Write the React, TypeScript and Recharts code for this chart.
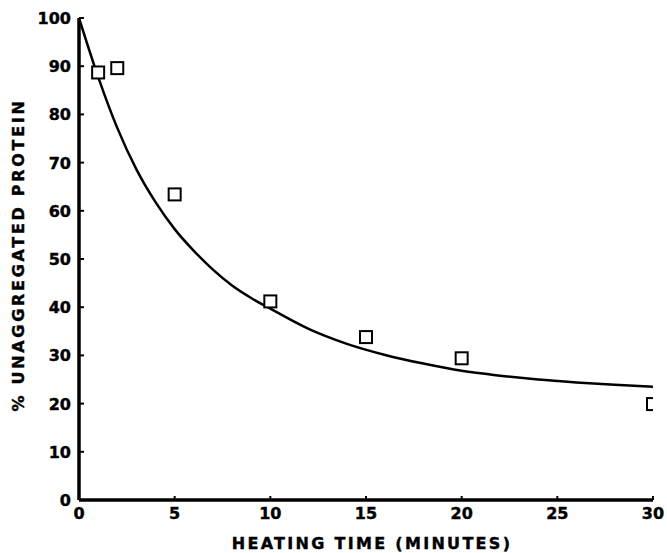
import { ComposedChart, Line, Scatter, XAxis, YAxis, Label } from 'recharts';

// fitted decay curve, read at fixed heating times
const fitTime = [0, 1, 2, 3, 4, 5, 6, 7, 8, 9, 10, 12, 14, 16, 18, 20, 22, 24, 26, 28, 30];
const fitPercent = [100, 87.8, 77.2, 68.6, 61.8, 56.2, 51.7, 47.8, 44.5, 41.9, 39.7, 35.5, 32.4, 30.1, 28.3, 26.8, 25.8, 25.0, 24.4, 23.9, 23.5];

// measured samples
const sampleTime = [1, 2, 5, 10, 15, 20, 30];
const samplePercent = [88.7, 89.6, 63.4, 41.2, 33.8, 29.4, 19.9];

const xTicks = [0, 5, 10, 15, 20, 25, 30];
const yTicks = [0, 10, 20, 30, 40, 50, 60, 70, 80, 90, 100];

const fitCurve = fitTime.map((time, i) => ({ time, percent: fitPercent[i] }));
const samples = sampleTime.map((time, i) => ({ time, percent: samplePercent[i] }));

const FONT = "'DejaVu Sans', sans-serif";

// bold type with a hairline stroke so it reads heavier
const textStyle = {
    fontFamily: FONT,
    fontWeight: 'bold' as const,
    fontSize: 16,
    fill: '#000',
    stroke: '#000',
    strokeWidth: 0.4,
};

function YTick(props: any) {
    const { x, y, payload } = props;
    return (
        <g>
            <line x1={x + 8} x2={x + 13} y1={y} y2={y} stroke="#000" strokeWidth={2} />
            <text x={x} y={y} dy={6} textAnchor="end" {...textStyle}>
                {payload.value}
            </text>
        </g>
    );
}

function XTick(props: any) {
    const { x, y, payload } = props;
    return (
        <g>
            <line x1={x} x2={x} y1={y} y2={y - 4} stroke="#000" strokeWidth={2} />
            <text x={x} y={y + 19} textAnchor="middle" {...textStyle}>
                {payload.value}
            </text>
        </g>
    );
}

function Square(props: any) {
    const { cx, cy } = props;
    return <rect x={cx - 6} y={cy - 6} width={12} height={12} fill="#fff" stroke="#000" strokeWidth={2} />;
}

function YTitle(props: any) {
    const vb = props.viewBox;
    const cx = 18;
    const cy = vb.y + vb.height / 2 - 4;
    return (
        <text
            x={cx}
            y={cy}
            transform={`rotate(-90 ${cx} ${cy})`}
            textAnchor="middle"
            dominantBaseline="central"
            letterSpacing={2.7}
            {...textStyle}
        >
            % UNAGGREGATED PROTEIN
        </text>
    );
}

function XTitle(props: any) {
    const vb = props.viewBox;
    return (
        <text x={vb.x + vb.width / 2 + 6} y={549} textAnchor="middle" letterSpacing={2.3} {...textStyle}>
            HEATING TIME (MINUTES)
        </text>
    );
}

export default function App() {
    return (
        <div style={{ position: 'absolute', left: 0, top: 0, background: '#fff' }}>
            <ComposedChart width={667} height={553} margin={{ top: 18, right: 14, bottom: 0, left: 0 }}>
                <XAxis
                    dataKey="time"
                    type="number"
                    domain={[0, 30]}
                    ticks={xTicks}
                    height={53}
                    tickSize={0}
                    tickMargin={0}
                    tickLine={false}
                    tick={(p: any) => <XTick {...p} />}
                    axisLine={{ stroke: '#000', strokeWidth: 3.5 }}
                    allowDataOverflow
                >
                    <Label content={(p: any) => <XTitle {...p} />} />
                </XAxis>
                <YAxis
                    dataKey="percent"
                    type="number"
                    domain={[0, 100]}
                    ticks={yTicks}
                    width={79}
                    tickSize={0}
                    tickMargin={8}
                    tickLine={false}
                    tick={(p: any) => <YTick {...p} />}
                    axisLine={{ stroke: '#000', strokeWidth: 3.5 }}
                    allowDataOverflow
                >
                    <Label content={(p: any) => <YTitle {...p} />} />
                </YAxis>
                <Line
                    data={fitCurve}
                    dataKey="percent"
                    type="monotone"
                    stroke="#000"
                    strokeWidth={2.5}
                    dot={false}
                    activeDot={false}
                    isAnimationActive={false}
                />
                <Scatter data={samples} dataKey="percent" shape={(p: any) => <Square {...p} />} isAnimationActive={false} />
            </ComposedChart>
        </div>
    );
}
